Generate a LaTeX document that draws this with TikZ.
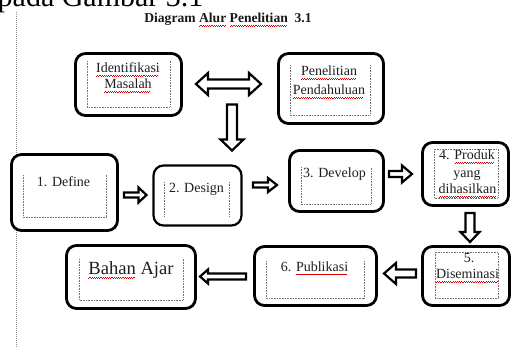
\documentclass[tikz,border=0pt]{standalone}
\usepackage{fontspec}
\setmainfont{Liberation Serif}
\usetikzlibrary{calc}
\newsavebox\sqbox
\newcommand\sqw[1]{\sbox\sqbox{#1}\rlap{\usebox\sqbox}{\color{red!85!black}\leaders\hbox{\rule[-3.4pt]{1.1pt}{0.55pt}\rule[-2.6pt]{1.1pt}{0.55pt}}\hskip\wd\sqbox}}
\newcommand\blockarr[5]{%
  \coordinate (bac) at ($(#2)!#5!(#1)$);
  \draw[barr] ($(#1)!#3!90:(#2)$) -- ($(bac)!#3!90:(#2)$) -- ($(bac)!#4!90:(#2)$) -- (#2) -- ($(bac)!#4!-90:(#2)$) -- ($(bac)!#3!-90:(#2)$) -- ($(#1)!#3!-90:(#2)$) -- cycle;}
\newcommand\dblarr[5]{%
  \coordinate (bca) at ($(#1)!#5!(#2)$);
  \coordinate (bcb) at ($(#2)!#5!(#1)$);
  \draw[barr] (#1) -- ($(bca)!#4!90:(#2)$) -- ($(bca)!#3!90:(#2)$) -- ($(bcb)!#3!90:(#2)$) -- ($(bcb)!#4!90:(#2)$) -- (#2) -- ($(bcb)!#4!-90:(#2)$) -- ($(bcb)!#3!-90:(#2)$) -- ($(bca)!#3!-90:(#2)$) -- ($(bca)!#4!-90:(#2)$) -- cycle;}
\tikzset{
  box/.style={draw=black, line width=2.8pt, rounded corners=10pt, inner sep=0pt, fill=white},
  dotbox/.style={draw=black!55, line width=0.6pt, dash pattern=on 0.8pt off 0.8pt},
  txt/.style={anchor=base, inner sep=0pt, text=black!88, font=\fontsize{14}{16}\selectfont},
  barr/.style={draw=black, line width=2.2pt, fill=white, line join=miter},
}
\begin{document}
\begin{tikzpicture}[x=1pt, y=-1pt]
\useasboundingbox[fill=white] (0,0) rectangle (512,347);
% page text
\node[anchor=base west, inner sep=0pt, font=\fontsize{30}{32}\selectfont] (pg) at (-2.5,6.5) {pada Gambar 3.1};
\draw[black!45, line width=1pt, dash pattern=on 1pt off 1pt] (16,12) -- (16,347);
\node[anchor=base, inner sep=0pt, font=\fontsize{13.6}{15}\selectfont\bfseries, text=black!90] (title) at (228,23) {Diagram \sqw{Alur} \sqw{Penelitian}\ \ 3.1};
% boxes
\node[box, minimum width=106pt, minimum height=62pt] (b1) at (128.5,84.5) {};
\node[box, minimum width=105pt, minimum height=70pt] (b2) at (331,88.5) {};
\node[box, minimum width=106pt, minimum height=76pt] (b3) at (64.5,192.5) {};
\node[box, line width=2.2pt, minimum width=88pt, minimum height=60pt] (b4) at (197.5,195.5) {};
\node[box, minimum width=94pt, minimum height=61pt] (b5) at (336.5,181) {};
\node[box, minimum width=86pt, minimum height=63pt] (b6) at (465.5,174) {};
\node[box, minimum width=87pt, minimum height=59pt] (b7) at (466,276) {};
\node[box, minimum width=122pt, minimum height=59pt] (b8) at (315.5,276) {};
\node[box, minimum width=129pt, minimum height=63pt] (b9) at (131,277) {};
% inner dotted frames
\draw[dotbox] (87,61) -- (87,107) -- (170,107) -- (170,61);
\draw[dotbox] (290,65) -- (290,115) -- (370,115) -- (370,65);
\draw[dotbox] (23,175) -- (23,217) -- (106,217) -- (106,175);
\draw[dotbox] (164,182) -- (164,217);
\draw[dotbox] (229,182) -- (229,217);
\draw[dotbox] (301,167) -- (301,204) -- (371,204) -- (371,167);
\draw[dotbox] (434,149) rectangle (498,198);
\draw[dotbox] (435,252) rectangle (498,298);
\draw[dotbox] (266,261) -- (266,298) -- (364,298) -- (364,261);
\draw[dotbox] (79,259) -- (79,300) -- (183,300) -- (183,259);
% texts
\node[txt] (t1a) at (128,73) {\sqw{Identifikasi}};
\node[txt] (t1b) at (128,89) {\sqw{Masalah}};
\node[txt] (t2a) at (329,76) {\sqw{Penelitian}};
\node[txt] (t2b) at (329,95) {\sqw{Pendahuluan}};
\node[txt] (t3) at (63.5,186.5) {1. Define};
\node[txt] (t4) at (196.5,193) {2. Design};
\node[txt] (t5) at (334.5,178) {3. Develop};
\node[txt] (t6a) at (467,160) {4. \sqw{Produk}};
\node[txt] (t6b) at (467,177.5) {yang};
\node[txt] (t6c) at (467.5,194) {\sqw{dihasilkan}};
\node[txt] (t7a) at (469,263) {5.};
\node[txt] (t7b) at (467.5,279) {\sqw{Diseminasi}};
\node[txt] (t8) at (314.5,271.5) {6. \sqw{Publikasi}};
\node[txt, font=\fontsize{18.6}{20}\selectfont] (t9) at (131,275) {\sqw{Bahan} Ajar};
% arrow end points
\coordinate (a1s) at (196,84);   \coordinate (a1e) at (261,84);
\coordinate (a2s) at (232,104.5); \coordinate (a2e) at (232,150.5);
\coordinate (a3s) at (124,195);  \coordinate (a3e) at (146.5,195);
\coordinate (a4s) at (253,185);  \coordinate (a4e) at (277,185);
\coordinate (a5s) at (389,174);  \coordinate (a5e) at (412,174);
\coordinate (a6s) at (470,213);  \coordinate (a6e) at (470,242);
\coordinate (a7s) at (416,273.5); \coordinate (a7e) at (384,273.5);
\coordinate (a8s) at (246,276.5); \coordinate (a8e) at (200,276.5);
% block arrows
\dblarr{a1s}{a1e}{4.5pt}{11pt}{12pt}
\blockarr{a2s}{a2e}{5pt}{11.5pt}{11pt}
\blockarr{a3s}{a3e}{2.5pt}{7.5pt}{8pt}
\blockarr{a4s}{a4e}{2.5pt}{7pt}{9pt}
\blockarr{a5s}{a5e}{3pt}{8.5pt}{10pt}
\blockarr{a6s}{a6e}{4.5pt}{9.5pt}{10pt}
\blockarr{a7s}{a7e}{4pt}{10.5pt}{12pt}
\blockarr{a8s}{a8e}{3pt}{7pt}{8pt}
\end{tikzpicture}
\end{document}
